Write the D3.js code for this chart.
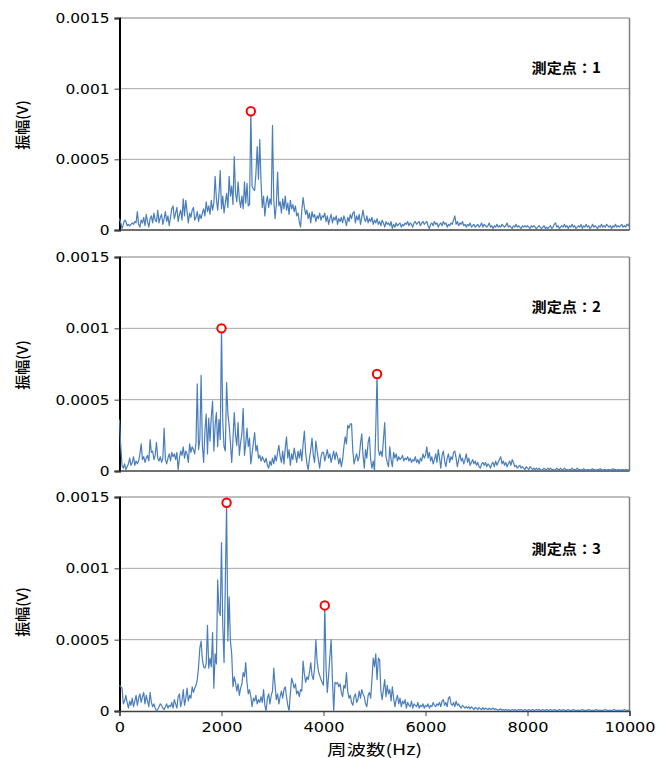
<!DOCTYPE html>
<html><head><meta charset="utf-8">
<script src="https://cdn.jsdelivr.net/npm/d3@7"></script>
<style>body{margin:0;background:#fff;}svg{display:block;}</style>
</head><body>
<svg id="chart" width="670" height="758"></svg>
<script>
// Frequency bins (Hz) step; amplitudes in units of 1e-5 V
const freqStepHz = 25;
const xTickValues = [0, 2000, 4000, 6000, 8000, 10000];
const yTickValues = [0, 50, 100, 150];
const yTickLabels = ["0", "0.0005", "0.001", "0.0015"];
const panelLabels = ["測定点：1", "測定点：2", "測定点：3"];
const yTitle = "振幅(V)";
const xTitle = "周波数(Hz)";

const p1 = [
8,5,1,4,7,6,3,4,3,4,5,4,6,5,13,4,2,7,5,9,3,11,6,2,8,10,5,12,7,6,14,5,9,11,4,8,13,6,10,3,
9,15,17,8,12,16,6,11,14,7,22,10,21,13,5,12,9,14,16,7,9,13,6,11,8,12,15,10,20,13,17,11,21,14,19,38,22,14,25,42,
15,24,12,19,26,16,38,24,31,18,52,26,20,34,22,16,24,15,34,19,33,17,18,84,31,29,28,40,59,36,64,34,16,24,10,19,24,16,22,18,
74,21,8,18,41,17,20,12,22,15,24,14,19,11,21,15,18,13,17,10,12,6,2,14,23,16,11,14,8,12,5,13,9,11,6,10,8,12,7,10,
9,12,6,10,4,8,11,5,9,7,10,4,8,6,9,5,10,7,3,9,6,11,8,12,13,5,10,7,11,4,9,14,8,6,10,5,8,6,9,4,
7,5,8,4,6,3,7,5,2,6,4,5,3,6,1,4,2,5,3,4,5,2,4,3,5,4,6,3,5,4,2,5,6,4,5,6,3,5,6,4,
5,6,3,1,4,5,3,6,4,5,2,4,5,3,6,4,5,2,4,3,5,4,7,10,4,6,3,5,4,6,3,4,2,4,3,5,2,3,4,2,
3,4,2,3,5,2,4,3,2,3,5,2,3,1,3,2,4,2,3,2,4,3,2,3,5,2,3,2,1,3,2,4,2,3,2,1,3,2,3,2,
3,2,1,3,2,3,2,1,2,3,2,1,2,3,1,2,1,2,3,1,2,4,5,2,3,1,2,3,2,4,2,3,1,3,2,4,2,3,1,2,
3,2,4,1,3,2,4,2,3,1,2,4,2,3,2,1,3,2,4,2,3,2,4,3,2,3,1,3,2,4,2,3,2,3,4,2,3,2,4,3,5
];
const p2 = [
36,17,4,2,5,1,3,5,9,4,6,10,4,7,5,7,12,19,8,10,6,9,11,7,22,13,14,8,11,20,9,7,10,6,9,30,8,5,9,12,
7,13,10,12,8,13,1,9,14,11,17,9,14,12,6,19,13,17,15,12,20,61,15,22,67,18,6,28,40,12,37,21,38,49,14,32,41,17,36,22,
100,34,17,14,62,40,32,20,6,22,41,25,18,34,11,20,26,44,11,19,30,17,23,5,12,20,27,14,18,9,11,7,10,8,6,9,4,2,7,4,
9,5,11,7,13,18,10,6,14,5,16,24,9,15,4,12,8,16,11,6,14,9,15,7,19,28,13,5,1,9,15,23,11,6,21,14,8,2,10,13,
13,7,11,15,9,12,6,10,14,8,13,10,5,9,3,8,17,24,19,32,30,33,33,14,5,9,12,7,10,19,26,11,2,15,9,20,24,8,2,7,
0,30,68,15,11,14,10,22,34,10,6,3,17,8,3,13,9,12,7,10,8,9,11,7,9,8,10,7,9,6,8,7,10,6,8,5,9,7,12,9,
11,17,9,13,7,10,5,8,12,6,15,9,2,11,14,7,3,9,12,6,10,8,13,14,9,3,8,12,7,9,5,8,12,6,9,4,6,8,5,7,
4,6,3,2,5,6,4,6,3,5,4,2,5,6,3,7,4,6,8,10,5,7,4,6,3,5,7,4,8,6,3,4,2,3,4,2,3,2,1,3,
2,1,3,2,1,2,1,2,1,2,1,0.5,1,2,1,1,2,1,2,1,1,0.5,1,2,1,1,2,1,1,2,1,1,0.5,1,1,2,1,1,1,2,
1,1,0.5,1,1.5,1,0.5,1,1,0.5,1,1.5,1,1,0.5,1,1,1.5,1,0.5,1,1,0.5,1,1,0.5,1,1.5,1,1,0.5,1,1,0.5,1,1,0.5,1,1,0.5,1
];
const p3 = [
18,17,16,5,7,11,6,2,7,4,9,3,7,11,4,9,12,6,10,13,5,11,7,3,13,6,3,5,2,0,1,3,5,4,2,1,3,5,2,4,
3,6,2,8,5,2,10,12,3,7,15,4,9,16,7,11,9,17,13,16,18,22,31,44,49,36,31,30,33,60,30,37,31,55,16,40,33,92,70,67,
118,60,34,90,146,49,80,49,40,17,24,20,14,19,11,16,19,27,24,34,20,12,15,10,3,9,7,11,5,8,6,10,6,15,4,0,9,12,5,11,
14,30,18,8,12,5,10,14,9,15,17,10,4,0,12,23,20,16,19,12,14,10,15,14,35,26,20,24,22,27,34,25,22,30,50,35,28,25,22,20,
18,74,30,13,25,38,50,22,0,20,19,20,17,19,13,10,18,16,27,14,9,11,6,4,10,12,6,8,14,9,15,12,10,5,3,11,13,9,22,37,
31,40,22,37,36,14,8,15,22,10,18,12,15,7,17,9,3,8,11,5,9,3,7,5,8,2,6,4,3,7,2,5,4,3,6,2,4,3,5,2,
4,3,5,2,4,3,6,4,3,5,4,6,3,7,8,4,6,3,9,10,5,4,6,3,7,4,5,3,2,4,3,2,3,2,3,1.5,3,2,1,2.5,
2,1,2.5,1.5,1,2.5,1,2,1.5,1,2,1,1.5,2,1,1.5,1,0.5,1,1.5,0.5,1,0.5,1,0.5,1,0.5,0.5,1,0.5,1,0.5,0.5,1,0.5,1,0.5,0.5,1,0.5,
0.5,1,0.5,0.5,1,0.5,0.5,1,0.5,1,0.5,0.5,1,0.5,0.5,1,0.5,0.5,1,0.5,0.5,1,0.5,0.5,0.5,1,0.5,0.5,1,0.5,0.5,0.5,1,0.5,0.5,0.5,1,0.5,0.5,0.5,
0.5,0.5,0.5,1,0.5,0.5,0.5,0.5,1,0.5,0.5,0.5,0.5,0.5,1,0.5,0.5,0.5,0.5,0.5,0.5,1,0.5,0.5,0.5,0.5,0.5,0.5,1,0.5,0.5,0.5,0.5,0.5,0.5,0.5,1,0.5,0.5,0.5,0.5
];
const p1Peaks = [2575];
const p2Peaks = [2000, 5050];
const p3Peaks = [2100, 4025];

const series = [p1, p2, p3];
const peaks = [p1Peaks, p2Peaks, p3Peaks];

// layout
const plotLeft = 119.5, plotRight = 629.5;
const layout = [
  {top: 18, bottom: 230, titleY: 125, labelY: 73},
  {top: 257, bottom: 471, titleY: 365, labelY: 312},
  {top: 497, bottom: 711, titleY: 612, labelY: 554}
];
const fontLatin = "'DejaVu Sans', Verdana, sans-serif";
const fontJP = "'Noto Sans CJK JP', sans-serif";

// horizontally widen a text element (reference text is wider than the fonts here)
function widen(sel, factor) {
  sel.each(function () {
    const w = this.getComputedTextLength();
    this.setAttribute("textLength", (w * factor).toFixed(1));
    this.setAttribute("lengthAdjust", "spacingAndGlyphs");
  });
}

const svg = d3.select("#chart");
const x = d3.scaleLinear().domain([0, 10000]).range([plotLeft, plotRight]);

layout.forEach((L, k) => {
  const y = d3.scaleLinear().domain([0, 150]).range([L.bottom, L.top]);
  const g = svg.append("g");

  // gridlines
  g.selectAll("line.grid").data(yTickValues.filter(v => v > 0 && v < 150)).enter()
    .append("line").attr("x1", plotLeft).attr("x2", plotRight)
    .attr("y1", d => y(d)).attr("y2", d => y(d))
    .attr("stroke", "#a6a6a6").attr("stroke-width", 1);

  // frame (top/right)
  g.append("line").attr("x1", plotLeft).attr("x2", plotRight).attr("y1", L.top).attr("y2", L.top)
    .attr("stroke", "#7f7f7f").attr("stroke-width", 1);
  g.append("line").attr("x1", plotRight).attr("x2", plotRight).attr("y1", L.top).attr("y2", L.bottom)
    .attr("stroke", "#7f7f7f").attr("stroke-width", 1.5);

  // y axis
  const yAxis = d3.axisLeft(y).tickValues(yTickValues)
    .tickFormat((d, i) => yTickLabels[i]).tickSize(5).tickPadding(5);
  const ya = g.append("g").attr("transform", `translate(${plotLeft},0)`).call(yAxis);
  ya.select(".domain").attr("stroke", "#000").attr("stroke-width", 2);
  ya.selectAll(".tick line").attr("stroke", "#404040");
  const yt = ya.selectAll(".tick text").attr("font-family", fontLatin).attr("font-size", 14).attr("fill", "#000");
  widen(yt, 1.1);

  // x axis line
  if (k === 2) {
    const xAxis = d3.axisBottom(x).tickValues(xTickValues).tickFormat(d3.format("d")).tickSize(5).tickPadding(6);
    const xa = g.append("g").attr("transform", `translate(0,${L.bottom})`).call(xAxis);
    xa.select(".domain").attr("stroke", "#404040").attr("stroke-width", 1.5);
    xa.selectAll(".tick line").attr("stroke", "#404040");
    const xt = xa.selectAll(".tick text").attr("font-family", fontLatin).attr("font-size", 14).attr("fill", "#000");
    widen(xt, 1.15);
  } else {
    g.append("line").attr("x1", plotLeft).attr("x2", plotRight).attr("y1", L.bottom).attr("y2", L.bottom)
      .attr("stroke", "#404040").attr("stroke-width", 1.5);
  }

  // data line
  const data = series[k].map((v, i) => ({f: i * freqStepHz, v}));
  const line = d3.line().x(d => x(d.f)).y(d => y(d.v));
  g.append("path").datum(data).attr("d", line)
    .attr("fill", "none").attr("stroke", "#4a7ebb").attr("stroke-width", 1.2)
    .attr("stroke-linejoin", "round");

  // peak markers
  g.selectAll("circle.pk").data(peaks[k]).enter().append("circle")
    .attr("cx", f => x(f))
    .attr("cy", f => y(series[k][Math.round(f / freqStepHz)]))
    .attr("r", 4.2).attr("fill", "#fff").attr("stroke", "#ff0000").attr("stroke-width", 2);

  // y title
  g.append("text").attr("transform", `translate(28,${L.titleY}) rotate(-90)`)
    .attr("text-anchor", "middle").attr("font-family", fontJP).attr("font-size", 15)
    .attr("font-weight", 500).attr("fill", "#000").text(yTitle);

  // panel label
  const pl = g.append("text").attr("x", 601).attr("y", L.labelY).attr("text-anchor", "end")
    .attr("font-family", fontJP).attr("font-weight", "bold").attr("font-size", 14)
    .attr("fill", "#000").text(panelLabels[k]);
  widen(pl, 1.08);
});

const xt = svg.append("text").attr("x", (plotLeft + plotRight) / 2).attr("y", 755)
  .attr("text-anchor", "middle").attr("font-family", fontJP).attr("font-size", 15)
  .attr("fill", "#000").text(xTitle);
widen(xt, 1.3);
</script>
</body></html>
